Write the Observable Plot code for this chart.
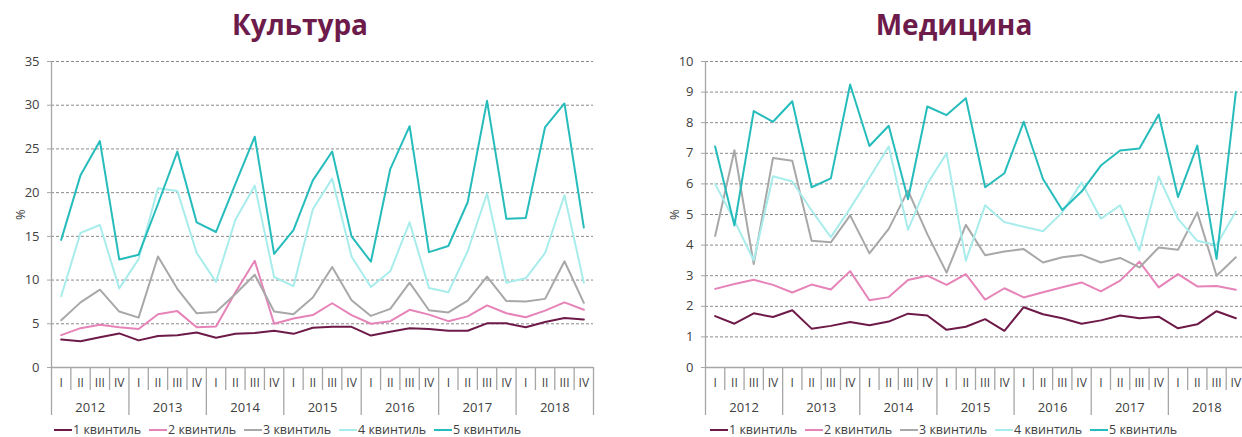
<!DOCTYPE html>
<html><head><meta charset="utf-8">
<script src="https://cdn.jsdelivr.net/npm/d3@7"></script>
<script src="https://cdn.jsdelivr.net/npm/@observablehq/plot@0.6"></script>
<style>
body{margin:0;background:#fff;font-family:"Open Sans",sans-serif;}
#root{position:relative;width:1242px;height:437px;overflow:hidden;background:#fff;}
.title{position:absolute;top:10px;font-weight:bold;font-size:28px;line-height:28px;color:#6d1b4a;transform:translateX(-50%);white-space:nowrap;}
.chart{position:absolute;top:0;}
.legend{position:absolute;top:422px;display:flex;font-size:12.5px;line-height:16px;color:#404040;white-space:nowrap;}
.legend .item{display:flex;align-items:center;width:95px;}
.legend .sw{display:inline-block;width:18px;height:2px;margin-right:1px;}
</style>
</head><body>
<div id="root"></div>
<script>
const years = ["2012","2013","2014","2015","2016","2017","2018"];
const quarters = ["I","II","III","IV"];
const seriesNames = ["1 квинтиль","2 квинтиль","3 квинтиль","4 квинтиль","5 квинтиль"];
const seriesColors = ["#6e1a48","#e683b8","#a8a8a8","#a8ecec","#26bcbc"];

const cultureTitle = "Культура";
const cultureTicks = [0,5,10,15,20,25,30,35];
const cultureQ1 = [3.2,3.0,3.45,3.9, 3.1,3.6,3.7,4.0, 3.4,3.85,3.95,4.2, 3.85,4.55,4.65,4.65, 3.65,4.1,4.5,4.4, 4.2,4.2,5.05,5.05, 4.6,5.2,5.65,5.5];
const cultureQ2 = [3.7,4.5,4.9,4.6, 4.4,6.1,6.45,4.6, 4.7,8.6,12.2,5.0, 5.6,6.0,7.35,6.0, 5.0,5.3,6.6,6.05, 5.3,5.85,7.1,6.2, 5.75,6.5,7.45,6.6];
const cultureQ3 = [5.4,7.45,8.9,6.4, 5.7,12.7,9.0,6.2, 6.35,8.4,10.6,6.4, 6.1,8.0,11.5,7.7, 5.9,6.7,9.7,6.55, 6.3,7.65,10.4,7.6, 7.55,7.85,12.15,7.4];
const cultureQ4 = [8.15,15.4,16.3,9.05, 12.4,20.5,20.2,13.1, 9.8,16.9,20.8,10.35, 9.3,18.1,21.6,12.7, 9.2,11.0,16.6,9.1, 8.6,13.3,19.9,9.7, 10.2,13.1,19.7,9.7];
const cultureQ5 = [14.6,22.0,25.9,12.35, 12.9,18.7,24.7,16.6, 15.5,21.0,26.4,13.0, 15.7,21.4,24.7,15.0, 12.1,22.7,27.6,13.2, 13.9,18.9,30.5,17.0, 17.1,27.5,30.2,16.0];

const medTitle = "Медицина";
const medTicks = [0,1,2,3,4,5,6,7,8,9,10];
const medQ1 = [1.68,1.43,1.77,1.65, 1.87,1.27,1.36,1.49, 1.38,1.5,1.76,1.7, 1.23,1.33,1.58,1.2, 1.97,1.74,1.61,1.43, 1.54,1.7,1.61,1.66, 1.28,1.41,1.84,1.61];
const medQ2 = [2.57,2.73,2.87,2.7, 2.45,2.71,2.55,3.15, 2.2,2.3,2.86,3.0, 2.7,3.05,2.22,2.59, 2.29,2.46,2.62,2.78, 2.49,2.84,3.46,2.62, 3.05,2.65,2.66,2.54];
const medQ3 = [4.3,7.1,3.38,6.85, 6.76,4.14,4.09,4.97, 3.73,4.53,5.78,4.36, 3.1,4.66,3.67,3.79, 3.87,3.43,3.6,3.68, 3.43,3.58,3.27,3.92, 3.85,5.07,3.0,3.6];
const medQ4 = [6.0,4.8,3.5,6.25, 6.08,5.13,4.26,5.2, 6.2,7.22,4.5,6.0, 7.0,3.49,5.3,4.75, 4.6,4.45,5.07,6.05, 4.86,5.3,3.82,6.24, 4.86,4.14,4.0,5.1];
const medQ5 = [7.22,4.64,8.38,8.03, 8.7,5.89,6.18,9.25, 7.24,7.9,5.5,8.53, 8.25,8.8,5.89,6.35, 8.03,6.16,5.15,5.75, 6.6,7.09,7.16,8.27, 5.57,7.25,3.55,9.0];

const FONT = "'Open Sans', sans-serif";
const AXIS = "#a6a6a6";
const TEXT = "#404040";

function makeChart(values, ticks, width, marginLeft, marginRight) {
  const n = years.length * quarters.length;
  const rows = values.flatMap((arr, k) => arr.map((v, i) => ({series: seriesNames[k], i, v})));
  const yMax = ticks[ticks.length - 1];
  const inner = d3.range(1, n).filter(i => i % 4 !== 0);
  const yearEdges = d3.range(0, n + 1, 4);
  const centers = d3.range(n).map(i => i + 0.5);
  const yearCenters = years.map((y, k) => k * 4 + 2);
  return Plot.plot({
    width, height: 437,
    marginTop: 61, marginBottom: 70, marginLeft, marginRight,
    style: {fontFamily: FONT, color: TEXT, background: "transparent"},
    x: {domain: [0, n], axis: null},
    y: {domain: [0, yMax], axis: null},
    color: {domain: seriesNames, range: seriesColors},
    marks: [
      Plot.gridY(ticks.filter(t => t > 0), {stroke: "#8a8a8a", strokeOpacity: 1, strokeDasharray: "3,2", strokeWidth: 1}),
      Plot.axisY({ticks, tickSize: 4, tickPadding: 8, stroke: AXIS, fontSize: 13, label: "%", labelAnchor: "center", labelArrow: "none", labelOffset: 36}),
      Plot.ruleY([0], {stroke: AXIS, strokeWidth: 1.3}),
      Plot.axisX({ticks: inner, tickSize: 23, tickFormat: () => "", stroke: AXIS, strokeWidth: 1.3, label: null}),
      Plot.axisX({ticks: yearEdges, tickSize: 48, tickFormat: () => "", stroke: AXIS, strokeWidth: 1.3, label: null}),
      Plot.axisX({ticks: centers, tickSize: 0, tickPadding: 11, fontSize: 12, tickFormat: d => quarters[Math.floor(d) % 4], label: null}),
      Plot.axisX({ticks: yearCenters, tickSize: 0, tickPadding: 35, fontSize: 13, tickFormat: d => years[(d - 2) / 4], label: null}),
      Plot.ruleX([0], {stroke: AXIS, strokeWidth: 1.3}),
      Plot.line(rows, {x: d => d.i + 0.5, y: "v", z: "series", stroke: "series", strokeWidth: 2})
    ]
  });
}

function addPanel(root, left, width, marginLeft, marginRight, values, ticks, title, titleX, legendX) {
  const svg = makeChart(values, ticks, width, marginLeft, marginRight);
  svg.classList.add("chart");
  svg.style.left = left + "px";
  root.appendChild(svg);
  const t = document.createElement("div");
  t.className = "title";
  t.style.left = titleX + "px";
  t.textContent = title;
  root.appendChild(t);
  const lg = document.createElement("div");
  lg.className = "legend";
  lg.style.left = legendX + "px";
  seriesNames.forEach((s, k) => {
    const it = document.createElement("div");
    it.className = "item";
    const sw = document.createElement("span");
    sw.className = "sw";
    sw.style.background = seriesColors[k];
    const tx = document.createElement("span");
    tx.textContent = s;
    it.appendChild(sw); it.appendChild(tx);
    lg.appendChild(it);
  });
  root.appendChild(lg);
}

const root = document.getElementById("root");
addPanel(root, 0, 621, 51, 28, [cultureQ1, cultureQ2, cultureQ3, cultureQ4, cultureQ5], cultureTicks, cultureTitle, 300, 54);
addPanel(root, 621, 624, 84, 0, [medQ1, medQ2, medQ3, medQ4, medQ5], medTicks, medTitle, 954, 710);
</script>
</body></html>
